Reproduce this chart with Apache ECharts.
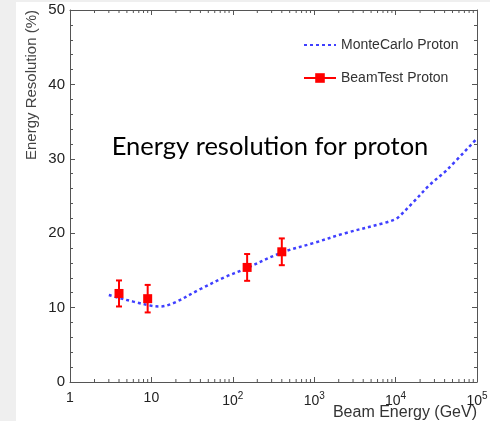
<!DOCTYPE html>
<html>
<head>
<meta charset="utf-8">
<script src="https://cdn.jsdelivr.net/npm/echarts@6/dist/echarts.min.js"></script>
<style>
  html, body { margin: 0; padding: 0; background: #ffffff; }
  #chart { width: 490px; height: 421px; }
</style>
</head>
<body>
<div id="chart"></div>
<script>
// Monte Carlo simulated resolution curve (beam energy in GeV, resolution in %)
var mcEnergy = [3, 4, 6, 10, 12.6, 18.6, 40, 80, 134, 400, 1000, 2400, 7400, 10000, 11200, 16600, 26300, 42700, 100000];
var mcResolution = [11.7, 11.3, 10.8, 10.25, 10.15, 10.6, 12.5, 14.1, 15.1, 17.4, 18.7, 20.0, 21.4, 21.9, 22.3, 24.2, 26.5, 28.5, 32.75];

// Beam test measurements with their uncertainties
var beamEnergy = [4, 9, 150, 400];
var beamResolution = [11.9, 11.2, 15.4, 17.5];
var beamError = [1.75, 1.85, 1.8, 1.8];

// Axis ranges and ticks
var xMin = 1, xMax = 100000;
var yMin = 0, yMax = 50, yStep = 10;
var xMinorTicks = [];
for (var d = 1; d < xMax; d *= 10) {
  for (var k = 2; k <= 9; k++) xMinorTicks.push(k * d);
}

var mcData = mcEnergy.map(function (e, i) { return [e, mcResolution[i]]; });
var beamData = beamEnergy.map(function (e, i) { return [e, beamResolution[i]]; });
var errData = beamEnergy.map(function (e, i) { return [e, beamResolution[i], beamError[i]]; });

var axisColor = '#555555';
var labelColor = '#222222';
var sansFont = 'Liberation Sans, Arial, sans-serif';

function xLabel(v) {
  var p = Math.round(Math.log10(v));
  if (p === 0) return '1';
  if (p === 1) return '10';
  return '10{sup|' + p + '}';
}

var chart = echarts.init(document.getElementById('chart'), null, { renderer: 'canvas' });

chart.setOption({
  backgroundColor: '#ffffff',
  animation: false,
  textStyle: { fontFamily: sansFont },
  grid: { left: 70, right: 13, top: 10, bottom: 39, containLabel: false, outerBoundsMode: 'none' },
  legend: {
    orient: 'vertical',
    left: 298,
    top: 33,
    itemWidth: 32,
    itemHeight: 12,
    itemGap: 19,
    textStyle: { fontSize: 14, color: '#333333' },
    data: [
      { name: 'MonteCarlo Proton', itemStyle: { opacity: 0 } },
      { name: 'BeamTest Proton', lineStyle: { opacity: 1, width: 2 } }
    ]
  },
  xAxis: [{
    type: 'log',
    logBase: 10,
    min: xMin,
    max: xMax,
    position: 'bottom',
    axisLine: { show: true, onZero: false, lineStyle: { color: axisColor, width: 1 } },
    axisTick: { show: true, inside: true, length: 5, lineStyle: { color: axisColor } },
    splitLine: { show: false },
    axisLabel: {
      margin: 9,
      color: labelColor,
      fontSize: 14,
      formatter: xLabel,
      rich: { sup: { fontSize: 10, color: labelColor, padding: [0, 0, 10, 0] } }
    }
  }, {
    type: 'log',
    logBase: 10,
    min: xMin,
    max: xMax,
    position: 'top',
    axisLine: { show: true, onZero: false, lineStyle: { color: axisColor, width: 1 } },
    axisTick: { show: true, inside: true, length: 5, lineStyle: { color: axisColor } },
    axisLabel: { show: false },
    splitLine: { show: false }
  }],
  yAxis: [{
    type: 'value',
    min: yMin,
    max: yMax,
    interval: yStep,
    position: 'left',
    axisLine: { show: true, onZero: false, lineStyle: { color: axisColor, width: 1 } },
    axisTick: { show: true, inside: true, length: 5, lineStyle: { color: axisColor } },
    minorTick: { show: true, splitNumber: 5, length: 3, lineStyle: { color: axisColor } },
    splitLine: { show: false },
    axisLabel: { margin: 5, color: labelColor, fontSize: 15 }
  }, {
    type: 'value',
    min: yMin,
    max: yMax,
    interval: yStep,
    position: 'right',
    axisLine: { show: true, onZero: false, lineStyle: { color: axisColor, width: 1 } },
    axisTick: { show: true, inside: true, length: 5, lineStyle: { color: axisColor } },
    minorTick: { show: true, splitNumber: 5, length: 3, lineStyle: { color: axisColor } },
    splitLine: { show: false },
    axisLabel: { show: false }
  }],
  graphic: [
    { type: 'rect', left: 0, top: 0, shape: { width: 16, height: 421 }, style: { fill: '#efefef' }, z: -10 },
    { type: 'rect', left: 0, top: 0, shape: { width: 490, height: 2 }, style: { fill: '#efefef' }, z: -10 },
    {
      type: 'text', x: 32, y: 85, rotation: Math.PI / 2,
      style: { text: 'Energy Resolution (%)', fill: '#444444', fontSize: 15, fontFamily: sansFont, align: 'center', verticalAlign: 'middle' }
    },
    {
      type: 'text', x: 477, y: 413,
      style: { text: 'Beam Energy (GeV)', fill: '#333333', fontSize: 16, fontFamily: sansFont, align: 'right', verticalAlign: 'middle' }
    },
    {
      type: 'text', x: 270, y: 147,
      style: { text: 'Energy resolution for proton', fill: '#000000', fontSize: 25.5, fontFamily: 'Lato, sans-serif', align: 'center', verticalAlign: 'middle' }
    }
  ],
  series: [
    {
      // logarithmic minor ticks along the bottom and top frame
      type: 'custom',
      xAxisIndex: 0,
      yAxisIndex: 0,
      silent: true,
      clip: false,
      data: xMinorTicks,
      encode: { x: 0 },
      renderItem: function (params, api) {
        var v = api.value(0);
        var b = api.coord([v, yMin]);
        var t = api.coord([v, yMax]);
        var st = { stroke: axisColor, lineWidth: 1 };
        return {
          type: 'group',
          children: [
            { type: 'line', shape: { x1: b[0], y1: b[1], x2: b[0], y2: b[1] - 3 }, style: st },
            { type: 'line', shape: { x1: t[0], y1: t[1], x2: t[0], y2: t[1] + 3 }, style: st }
          ]
        };
      },
      z: 1
    },
    {
      name: 'MonteCarlo Proton',
      type: 'line',
      data: mcData,
      smooth: 0.35,
      symbol: 'none',
      color: '#3f3fff',
      lineStyle: { color: '#3f3fff', width: 2.5, type: [3, 3] },
      z: 2
    },
    {
      // vertical error bars with caps
      type: 'custom',
      silent: true,
      data: errData,
      encode: { x: 0, y: 1 },
      renderItem: function (params, api) {
        var x = api.value(0), y = api.value(1), e = api.value(2);
        var lo = api.coord([x, y - e]);
        var hi = api.coord([x, y + e]);
        var st = { stroke: '#ff0000', lineWidth: 2 };
        var w = 3;
        return {
          type: 'group',
          children: [
            { type: 'line', shape: { x1: lo[0], y1: lo[1], x2: hi[0], y2: hi[1] }, style: st },
            { type: 'line', shape: { x1: lo[0] - w, y1: lo[1], x2: lo[0] + w, y2: lo[1] }, style: st },
            { type: 'line', shape: { x1: hi[0] - w, y1: hi[1], x2: hi[0] + w, y2: hi[1] }, style: st }
          ]
        };
      },
      z: 3
    },
    {
      name: 'BeamTest Proton',
      type: 'line',
      data: beamData,
      symbol: 'rect',
      symbolSize: 9,
      color: '#ff0000',
      itemStyle: { color: '#ff0000' },
      lineStyle: { color: '#ff0000', width: 2, opacity: 0 },
      z: 4
    }
  ]
});
</script>
</body>
</html>
